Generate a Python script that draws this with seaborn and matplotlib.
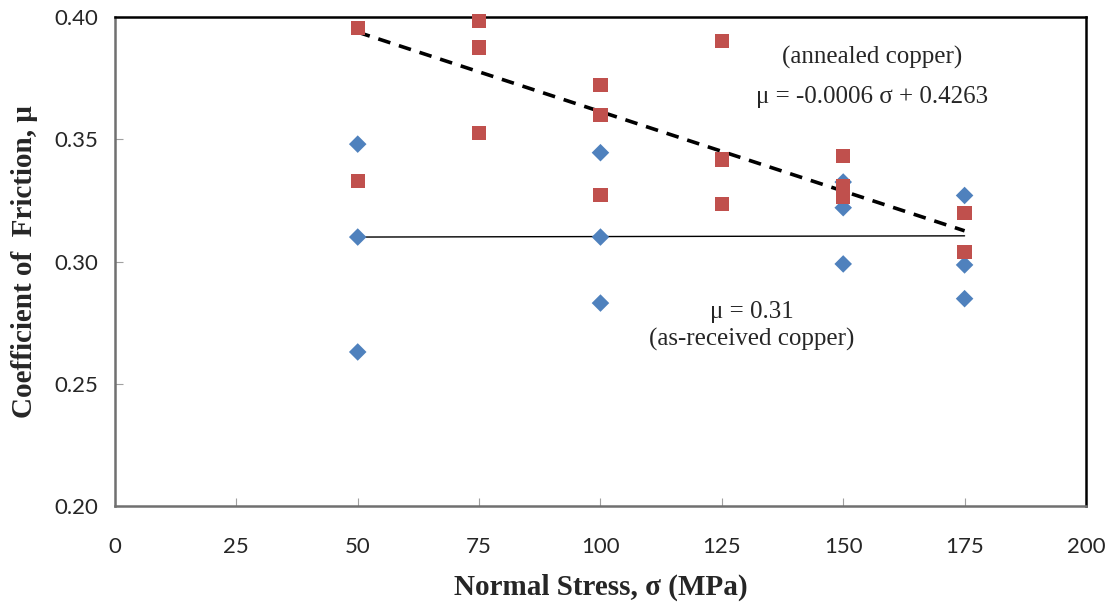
import numpy as np
import pandas as pd
import matplotlib.pyplot as plt
import seaborn as sns

# as-received copper (blue diamonds)
stress_recv = [50, 50, 50, 100, 100, 100, 150, 150, 150, 175, 175, 175]
mu_recv = [0.348, 0.310, 0.263, 0.3445, 0.310, 0.283, 0.3325, 0.322, 0.299, 0.327, 0.2986, 0.2848]

# annealed copper (red squares)
stress_ann = [50, 50, 75, 75, 75, 100, 100, 100, 125, 125, 125, 150, 150, 150, 175, 175]
mu_ann = [0.3955, 0.333, 0.3984, 0.3875, 0.3526, 0.3722, 0.3598, 0.3273, 0.3903, 0.3417, 0.3235,
          0.3430, 0.3307, 0.3263, 0.3199, 0.3038]

# trend lines as drawn on the chart (slope, intercept)
trend_ann = (-0.00065, 0.4263)
trend_recv = (0.000004, 0.3098)

x_ticks = [0, 25, 50, 75, 100, 125, 150, 175, 200]
y_ticks = [0.20, 0.25, 0.30, 0.35, 0.40]

df_recv = pd.DataFrame({"stress": stress_recv, "mu": mu_recv})
df_ann = pd.DataFrame({"stress": stress_ann, "mu": mu_ann})

# trend line end points over the data range
xr = np.array([min(stress_ann), max(stress_ann)])
df_fit_ann = pd.DataFrame({"stress": xr, "mu": trend_ann[0] * xr + trend_ann[1]})
xr2 = np.array([min(stress_recv), max(stress_recv)])
df_fit_recv = pd.DataFrame({"stress": xr2, "mu": trend_recv[0] * xr2 + trend_recv[1]})

sns.set_style("ticks")
plt.rcParams['font.family'] = ['Lato', 'DejaVu Sans']

fig = plt.figure(figsize=(11.13, 6.11), dpi=100)
ax = fig.add_axes([0.1033, 0.1718, 0.8724, 0.8004])

blue = "#4F81BD"
red = "#C0504D"

sns.lineplot(data=df_fit_recv, x="stress", y="mu", ax=ax, color="black", lw=1.0)
sns.lineplot(data=df_fit_ann, x="stress", y="mu", ax=ax, color="black", lw=2.6,
             dashes=False, linestyle=(0, (3.5, 2.5)))

sns.scatterplot(data=df_recv, x="stress", y="mu", ax=ax, marker="D", s=80, color=blue,
                edgecolor="none", clip_on=False, zorder=3)
sns.scatterplot(data=df_ann, x="stress", y="mu", ax=ax, marker="s", s=105, color=red,
                edgecolor="none", clip_on=False, zorder=3)

ax.set_xlim(0, 200)
ax.set_ylim(0.20, 0.40)
ax.set_xticks(x_ticks)
ax.set_yticks(y_ticks)
ax.set_yticklabels([f"{v:.2f}" for v in y_ticks])
ax.tick_params(axis="both", direction="in", length=6, color="#A0A0A0", labelsize=16)
ax.tick_params(axis="x", pad=22)
ax.tick_params(axis="y", pad=12)

for side in ["left", "bottom"]:
    ax.spines[side].set_color("#707070")
    ax.spines[side].set_linewidth(1.8)
for side in ["top", "right"]:
    ax.spines[side].set_visible(True)
    ax.spines[side].set_color("black")
    ax.spines[side].set_linewidth(1.8)

serif = ["Liberation Serif", "DejaVu Serif"]
ax.set_xlabel("Normal Stress, σ (MPa)", fontsize=21, fontweight="bold", family=serif, labelpad=12)
ax.set_ylabel("Coefficient of  Friction, μ", fontsize=21, fontweight="bold", family=serif, labelpad=12)

ax.text(155.9, 0.3808, "(annealed copper)", ha="center", va="baseline", fontsize=18, family=serif)
ax.text(155.9, 0.3648, "μ = -0.0006 σ + 0.4263", ha="center", va="baseline", fontsize=18, family=serif)
ax.text(131.2, 0.2769, "μ = 0.31", ha="center", va="baseline", fontsize=18, family=serif)
ax.text(131.2, 0.2658, "(as-received copper)", ha="center", va="baseline", fontsize=18, family=serif)

fig.savefig("out.png", dpi=100)
